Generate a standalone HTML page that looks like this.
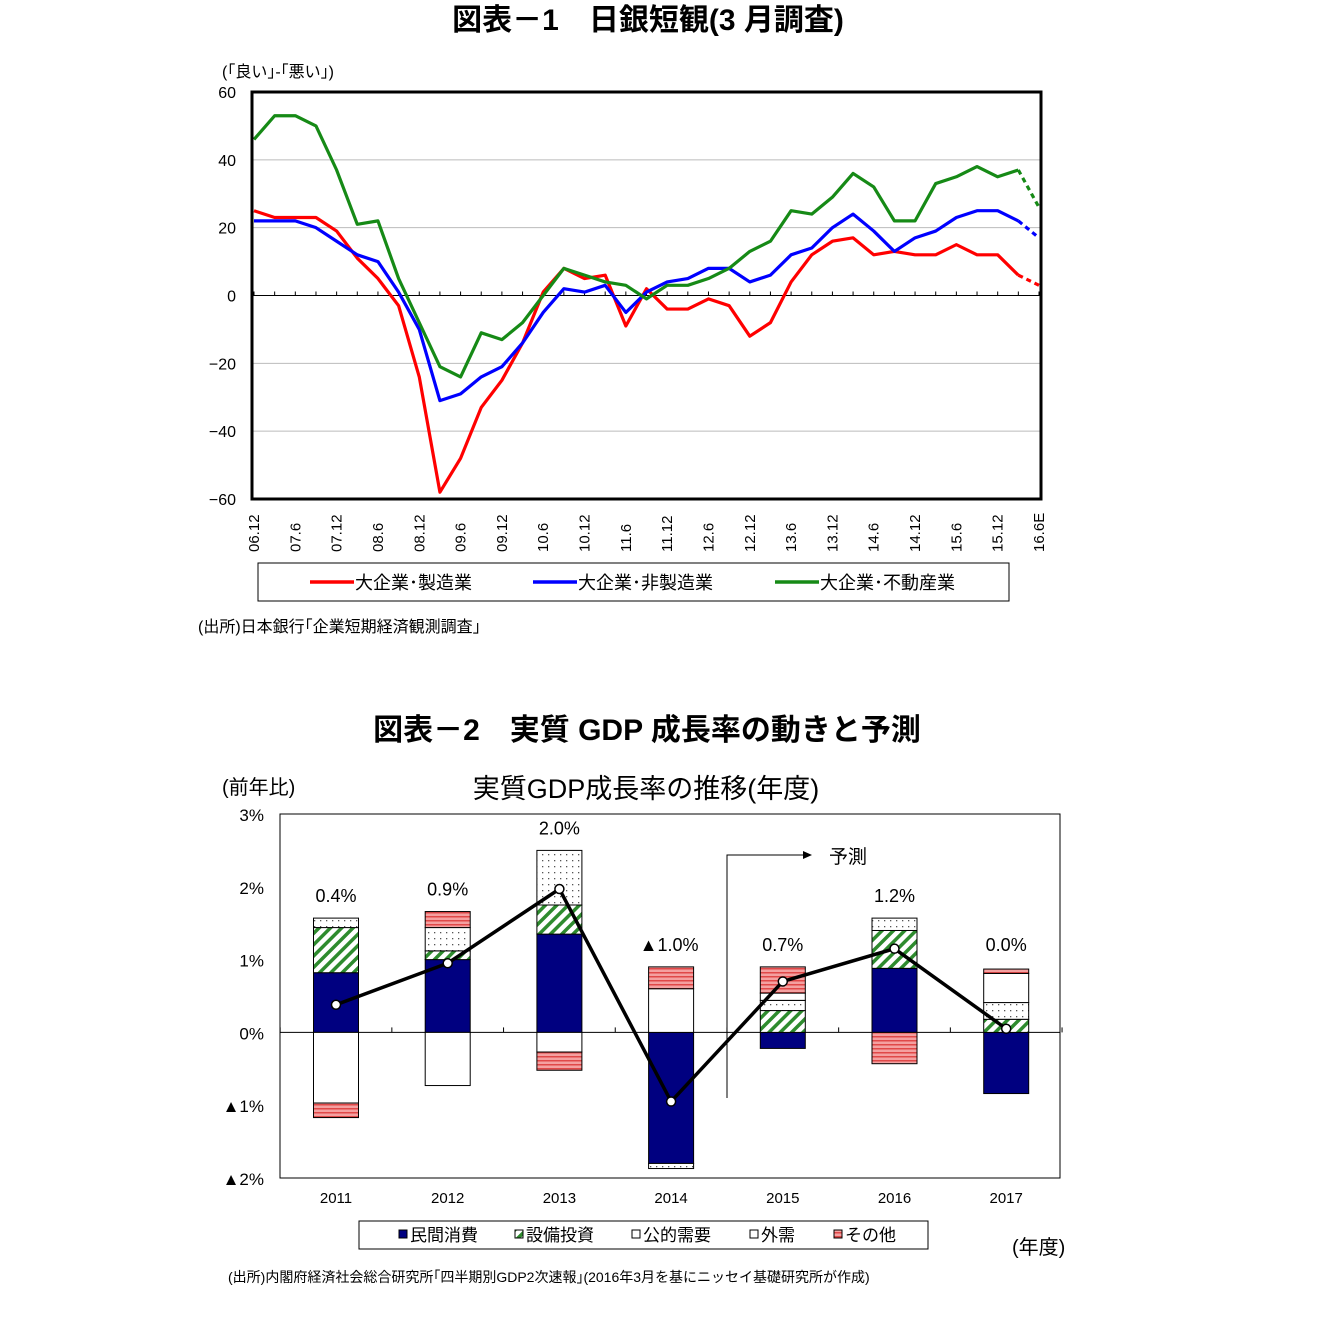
<!DOCTYPE html>
<html><head><meta charset="utf-8">
<style>
body{margin:0;background:#fff;}
svg text{font-family:"Liberation Sans","Noto Sans CJK JP",sans-serif;}
</style></head>
<body>
<svg id="s" width="1320" height="1320" xmlns="http://www.w3.org/2000/svg">
<defs>
<pattern id="pInv" width="8" height="8" patternUnits="userSpaceOnUse" patternTransform="rotate(45)"><rect width="8" height="8" fill="#fff"/><rect width="3.5" height="8" fill="#2e8b2e"/></pattern>
<pattern id="pPub" width="6" height="6" patternUnits="userSpaceOnUse"><rect width="6" height="6" fill="#fff"/><rect x="2" y="2" width="1.3" height="1.3" fill="#555"/></pattern>
<pattern id="pOth" width="4" height="4" patternUnits="userSpaceOnUse"><rect width="4" height="4" fill="#f4a0a0"/><rect width="4" height="1.5" fill="#e04848"/></pattern>
</defs>
<text x="648" y="30" font-size="30" font-weight="bold" text-anchor="middle">図表－1　日銀短観(3 月調査)</text>
<text x="222" y="77" font-size="16">(｢良い｣-｢悪い｣)</text>
<g id="c1"></g>
<text x="198" y="632" font-size="16">(出所)日本銀行｢企業短期経済観測調査｣</text>
<text x="647" y="740" font-size="30" font-weight="bold" text-anchor="middle">図表－2　実質 GDP 成長率の動きと予測</text>
<text x="222" y="794" font-size="20">(前年比)</text>
<text x="646" y="798" font-size="27" text-anchor="middle">実質GDP成長率の推移(年度)</text>
<g id="c2"></g>
<text x="1012" y="1254" font-size="20">(年度)</text>
<text x="228" y="1282" font-size="14">(出所)内閣府経済社会総合研究所｢四半期別GDP2次速報｣(2016年3月を基にニッセイ基礎研究所が作成)</text>
</svg>
<script>
// Chart 1 data
const c1Labels = ["06.12","07.6","07.12","08.6","08.12","09.6","09.12","10.6","10.12","11.6","11.12","12.6","12.12","13.6","13.12","14.6","14.12","15.6","15.12","16.6E"];
const c1Ticks = [60,40,20,0,-20,-40,-60];
const mfg = [25,23,23,23,19,11,5,-3,-24,-58,-48,-33,-25,-14,1,8,5,6,-9,2,-4,-4,-1,-3,-12,-8,4,12,16,17,12,13,12,12,15,12,12,6,3];
const nonMfg = [22,22,22,20,16,12,10,1,-10,-31,-29,-24,-21,-14,-5,2,1,3,-5,1,4,5,8,8,4,6,12,14,20,24,19,13,17,19,23,25,25,22,17];
const realEstate = [46,53,53,50,37,21,22,5,-8,-21,-24,-11,-13,-8,0,8,6,4,3,-1,3,3,5,8,13,16,25,24,29,36,32,22,22,33,35,38,35,37,26];
const c1Names = ["大企業･製造業","大企業･非製造業","大企業･不動産業"];
// Chart 2 data
const years = ["2011","2012","2013","2014","2015","2016","2017"];
const consumption = [0.82,1.0,1.35,-1.8,-0.22,0.88,-0.84];
const investment = [0.62,0.12,0.4,0,0.3,0.52,0.18];
const publicDemand = [0.13,0.32,0.75,-0.07,0.14,0.17,0.23];
const externalDemand = [-0.97,-0.73,-0.27,0.6,0.1,0,0.4];
const others = [-0.2,0.22,-0.25,0.3,0.36,-0.43,0.06];
const growth = [0.38,0.95,1.97,-0.95,0.7,1.15,0.05];
const growthLabels = ["0.4%","0.9%","2.0%","▲1.0%","0.7%","1.2%","0.0%"];
const c2Ticks = [3,2,1,0,-1,-2];
const c2TickLabels = ["3%","2%","1%","0%","▲1%","▲2%"];
const c2Legend = ["民間消費","設備投資","公的需要","外需","その他"];

const NS="http://www.w3.org/2000/svg";
function mk(p,tag,at,txt){const e=document.createElementNS(NS,tag);for(const k in at)e.setAttribute(k,at[k]);if(txt!==undefined)e.textContent=txt;p.appendChild(e);return e;}

// ---- Chart 1
const g1=document.getElementById('c1');
const L1=252,R1=1041,T1=92,B1=499;
const y1=v=>T1+(60-v)/120*(B1-T1);
const x1=i=>254+i*(1039-254)/38;
c1Ticks.forEach(t=>{
  if(t!==60&&t!==-60&&t!==0){const l=mk(g1,'line',{x1:L1,x2:R1,y1:y1(t),y2:y1(t),stroke:'#bbb','stroke-width':1});
  
  }
  const tx=mk(g1,'text',{x:236,y:y1(t)+6,'font-size':16,'text-anchor':'end'},t===0?"0":(t<0?"−"+(-t):String(t)));
  
  
});
const zl=mk(g1,'line',{x1:L1,x2:R1,y1:y1(0),y2:y1(0),stroke:'#000','stroke-width':1});


for(let i=0;i<39;i++){const tk=mk(g1,'line',{x1:x1(i),x2:x1(i),y1:y1(0)-4,y2:y1(0),stroke:'#000'});

}
c1Labels.forEach((lb,j)=>{const x=x1(j*2);
  const t=mk(g1,'text',{x:0,y:0,'font-size':15,transform:`translate(${x+5},${552}) rotate(-90)`},lb);
  
  });
const colors=['#ff0000','#0000ff','#168a16'];
[mfg,nonMfg,realEstate].forEach((s,k)=>{
  const pts=s.slice(0,38).map((v,i)=>x1(i)+','+y1(v)).join(' ');
  const pl=mk(g1,'polyline',{points:pts,fill:'none',stroke:colors[k],'stroke-width':3.2,'stroke-linejoin':'round'});
  
  
  const d=mk(g1,'line',{x1:x1(37),y1:y1(s[37]),x2:x1(38),y2:y1(s[38]),stroke:colors[k],'stroke-width':3.2,'stroke-dasharray':'5,4'});
  
  
});
const fr=mk(g1,'rect',{x:L1,y:T1,width:R1-L1,height:B1-T1,fill:'none',stroke:'#000','stroke-width':3});


const lg=mk(g1,'rect',{x:258,y:563,width:751,height:38,fill:'#fff',stroke:'#000'});


[310,533,775].forEach((lx,k)=>{
  const l=mk(g1,'line',{x1:lx,x2:lx+44,y1:582,y2:582,stroke:colors[k],'stroke-width':3.5});
  
  
  const t=mk(g1,'text',{x:lx+45,y:589,'font-size':18},c1Names[k]);
  
  
});

// ---- Chart 2
const g2=document.getElementById('c2');
const L2=280,R2=1060,T2=814,B2=1178;
const y2=v=>T2+(3-v)/5*(B2-T2);
const x2=i=>336+i*111.7;
const bw=45;
const f2=mk(g2,'rect',{x:L2,y:T2,width:R2-L2,height:B2-T2,fill:'#fff',stroke:'#000','stroke-width':1});


c2Ticks.forEach((t,i)=>{const tx=mk(g2,'text',{x:264,y:y2(t)+7,'font-size':17,'text-anchor':'end'},c2TickLabels[i]);

});
const z2=mk(g2,'line',{x1:L2,x2:R2,y1:y2(0),y2:y2(0),stroke:'#000'});


for(let i=0;i<=7;i++){const x=(x2(i)+x2(i-1))/2;const tk=mk(g2,'line',{x1:x,x2:x,y1:y2(0)-5,y2:y2(0),stroke:'#000'});

}
const comps=[[consumption,'#000080'],[investment,'url(#pInv)'],[publicDemand,'url(#pPub)'],[externalDemand,'#fff'],[others,'url(#pOth)']];
years.forEach((yr,i)=>{
  let pos=0,neg=0;
  comps.forEach(([arr,fill],k)=>{
    const v=arr[i]; if(!v) return;
    let a,b; if(v>0){a=pos;b=pos+v;pos=b;}else{a=neg;b=neg+v;neg=b;}
    const r=mk(g2,'rect',{x:x2(i)-bw/2,y:Math.min(y2(a),y2(b)),width:bw,height:Math.abs(y2(a)-y2(b)),fill:fill,stroke:'#000','stroke-width':1});
    
    
  });
  const t=mk(g2,'text',{x:x2(i),y:1203,'font-size':15,'text-anchor':'middle'},yr);
  
  
  const top=Math.max(pos,0.9);
  const gl=mk(g2,'text',{x:x2(i)+(i===3?-2:0),y:y2(top)-16,'font-size':18,'text-anchor':'middle'},growthLabels[i]);
  
  
});
const gp=mk(g2,'polyline',{points:growth.map((v,i)=>x2(i)+','+y2(v)).join(' '),fill:'none',stroke:'#000','stroke-width':3.5});


growth.forEach((v,i)=>{const c=mk(g2,'circle',{cx:x2(i),cy:y2(v),r:4.5,fill:'#fff',stroke:'#000','stroke-width':1.5});

});
const fl=mk(g2,'polyline',{points:'727,1098 727,855 805,855',fill:'none',stroke:'#000','stroke-width':1});


const ah=mk(g2,'polygon',{points:'812,855 803,851 803,859',fill:'#000'});


const ft=mk(g2,'text',{x:829,y:863,'font-size':19},'予測');


const lg2=mk(g2,'rect',{x:359,y:1221,width:569,height:28,fill:'#fff',stroke:'#000'});


const lx2=[399,515,632,750,834];
const lfill=['#000080','url(#pInv)','#fff','#fff','url(#pOth)'];
c2Legend.forEach((n,k)=>{
  const r=mk(g2,'rect',{x:lx2[k],y:1230,width:8,height:8,fill:lfill[k],stroke:'#000','stroke-width':1});
  
  
  const t=mk(g2,'text',{x:lx2[k]+11,y:1241,'font-size':17},n);
  
  
});
</script>
</body></html>
